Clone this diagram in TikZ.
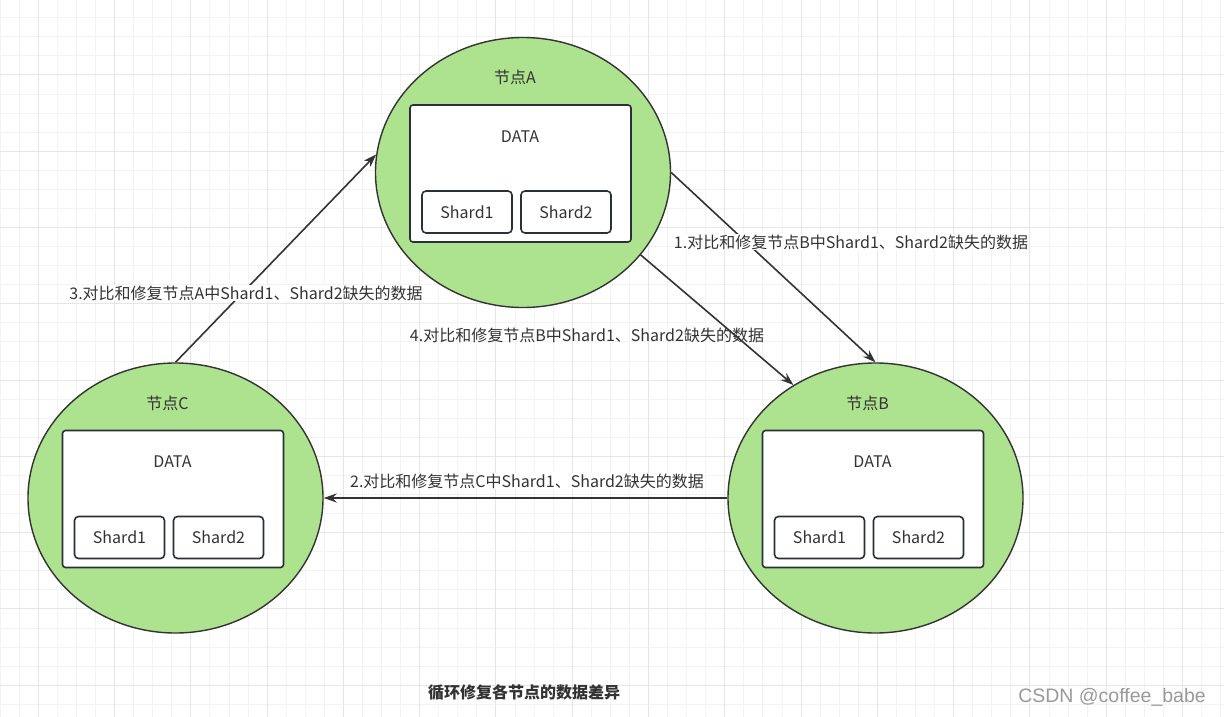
\documentclass[tikz,border=0pt]{standalone}
\usepackage{fontspec}
\setmainfont{Noto Sans CJK SC}
\newfontfamily\markfont{Liberation Sans}
\usetikzlibrary{shapes.geometric,arrows.meta}
\definecolor{nodegreen}{HTML}{ADE28F}
\definecolor{inkgray}{HTML}{333333}
\definecolor{boxgray}{HTML}{2B3038}
\definecolor{minorgrid}{HTML}{F3F3F3}
\definecolor{majorgrid}{HTML}{E6E6E6}
\begin{document}
\begin{tikzpicture}[x=1pt,y=-1pt,>={Stealth[length=13pt,width=9pt]},
    server/.style={ellipse,draw=inkgray,fill=nodegreen,line width=1.4pt,minimum width=295pt,minimum height=270pt,inner sep=0pt},
    databox/.style={draw=boxgray,fill=white,rounded corners=3pt,line width=1.6pt,minimum width=221pt,minimum height=137pt,inner sep=0pt},
    shardbox/.style={draw=boxgray,fill=white,rounded corners=4pt,line width=1.6pt,minimum width=90pt,minimum height=42pt,inner sep=0pt,text=inkgray,font=\fontsize{16}{19}\selectfont},
    tag/.style={text=inkgray,inner sep=1pt,font=\fontsize{16}{19}\selectfont},
    msg/.style={tag,fill=white},
    link/.style={->,draw=inkgray,line width=1.6pt}]
\useasboundingbox (0,0) rectangle (1224,717);
\fill[white] (0,0) rectangle (1224,717);
% background grid
\foreach \k in {-2,...,62} \draw[minorgrid,line width=1pt] (38.3+19.07*\k,0) -- ++(0,717);
\foreach \k in {-3,...,33} \draw[minorgrid,line width=1pt] (0,75+19.07*\k) -- ++(1224,0);
\foreach \k in {0,...,15} \draw[majorgrid,line width=1pt] (38.3+76.28*\k,0) -- ++(0,717);
\foreach \k in {0,...,8} \draw[majorgrid,line width=1pt] (0,75+76.28*\k) -- ++(1224,0);

% the three nodes
\foreach \n/\cx/\cy in {A/523/172.5,B/875.5/498,C/175.5/498}{
  \node[server] (node\n) at (\cx,\cy) {};
  \node[tag] (name\n) at (\cx-8,\cy-95) {节点\n};
  \node[databox] (data\n) at (\cx-2.5,\cy+1) {};
  \node[tag] (label\n) at (\cx-3,\cy-36) {DATA};
  \node[shardbox] (shardone\n) at (\cx-56,\cy+39.5) {Shard1};
  \node[shardbox] (shardtwo\n) at (\cx+43,\cy+39.5) {Shard2};
}

\draw[link] (nodeA.east) -- (nodeB.north);
\draw[link] (nodeB.west) -- (nodeC.east);
\draw[link] (nodeC.north) -- (nodeA.173);
\draw[link] (nodeA.-35) -- (nodeB.126);

\node[msg] (msgone) at (851,242) {1.对比和修复节点B中Shard1、Shard2缺失的数据};
\node[msg] (msgtwo) at (527,481) {2.对比和修复节点C中Shard1、Shard2缺失的数据};
\node[msg] (msgthree) at (246,293) {3.对比和修复节点A中Shard1、Shard2缺失的数据};
\node[tag] (msgfour) at (587,335) {4.对比和修复节点B中Shard1、Shard2缺失的数据};

\node[text=inkgray,font=\fontsize{16}{19}\selectfont\bfseries] (caption) at (524,692) {循环修复各节点的数据差异};
\node[text=black!40,font=\markfont\fontsize{19.5}{22}\selectfont] (mark) at (1112,697) {CSDN @coffee\_babe};
\end{tikzpicture}
\end{document}
